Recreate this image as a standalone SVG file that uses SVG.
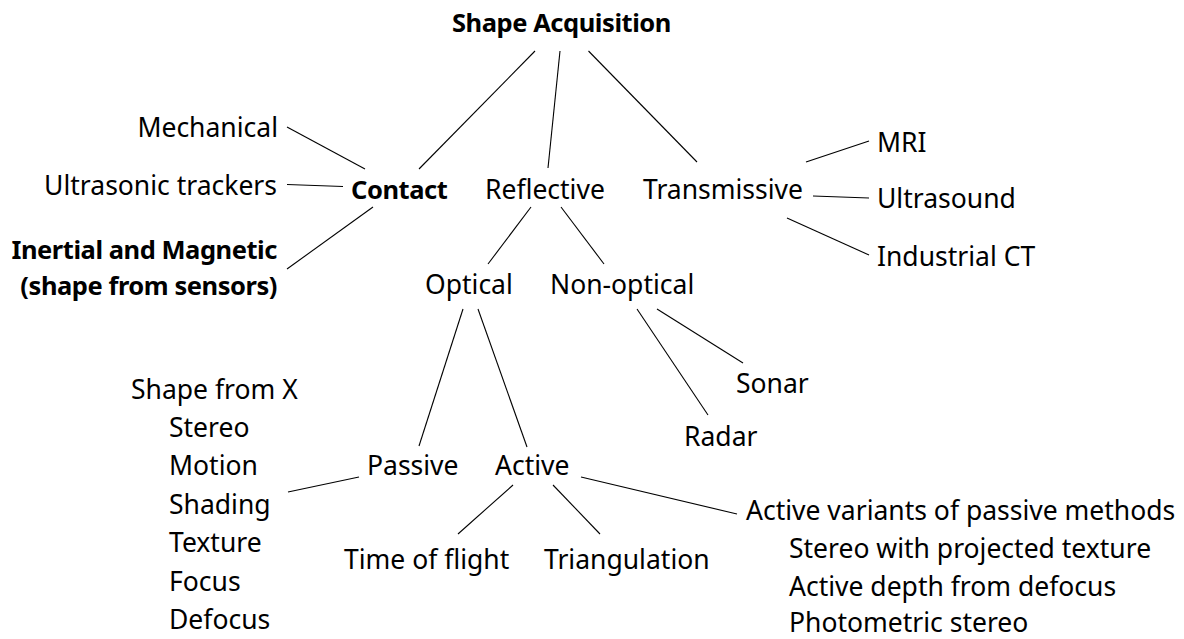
<svg xmlns="http://www.w3.org/2000/svg" width="1184" height="639" viewBox="0 0 1184 639">
<style>
text{font-family:"Noto Sans","Open Sans",sans-serif;font-size:26.5px;fill:#000}
.b{font-weight:bold;font-size:25.5px;letter-spacing:-0.45px}
.e{text-anchor:end}
.m{text-anchor:middle}
#connectors line{stroke:#000;stroke-width:1.1}
</style>
<rect width="1184" height="639" fill="#fff"/>
<g id="connectors">
<line x1="535" y1="51" x2="419" y2="169"/>
<line x1="560" y1="51" x2="548" y2="168"/>
<line x1="588.5" y1="51" x2="697" y2="162"/>
<line x1="287" y1="127" x2="365" y2="169"/>
<line x1="287" y1="184.5" x2="343" y2="186.5"/>
<line x1="373" y1="207" x2="287" y2="269"/>
<line x1="531" y1="207" x2="488" y2="264"/>
<line x1="561" y1="207" x2="604" y2="264"/>
<line x1="806" y1="162" x2="869" y2="141"/>
<line x1="813" y1="196" x2="869" y2="198"/>
<line x1="787" y1="218" x2="869" y2="255"/>
<line x1="463" y1="309" x2="419" y2="446"/>
<line x1="478" y1="309" x2="527" y2="447"/>
<line x1="637" y1="309" x2="708" y2="415"/>
<line x1="657" y1="309" x2="743" y2="363"/>
<line x1="359" y1="477" x2="288" y2="492"/>
<line x1="513" y1="485" x2="458" y2="534"/>
<line x1="553" y1="485" x2="600" y2="534"/>
<line x1="581" y1="477" x2="737" y2="514"/>
</g>
<g id="n-root"><text class="b m" x="561.5" y="31.5">Shape Acquisition</text></g>
<g id="n-mechanical"><text class="e" x="278" y="137">Mechanical</text></g>
<g id="n-ultrasonic"><text class="e" x="277" y="195">Ultrasonic trackers</text></g>
<g id="n-inertial"><text class="b e" x="277" y="259">Inertial and Magnetic</text><text class="b e" x="277" y="295">(shape from sensors)</text></g>
<g id="n-contact"><text class="b" x="351" y="199">Contact</text></g>
<g id="n-reflective"><text x="485" y="199">Reflective</text></g>
<g id="n-transmissive"><text x="643" y="199">Transmissive</text></g>
<g id="n-mri"><text x="877" y="152">MRI</text></g>
<g id="n-ultrasound"><text x="877" y="208">Ultrasound</text></g>
<g id="n-ct"><text x="877" y="266">Industrial CT</text></g>
<g id="n-optical"><text x="425" y="294">Optical</text></g>
<g id="n-nonoptical"><text x="550" y="294">Non-optical</text></g>
<g id="n-sonar"><text x="736" y="393">Sonar</text></g>
<g id="n-radar"><text x="684" y="446">Radar</text></g>
<g id="n-sfx"><text x="131" y="399">Shape from X</text>
<text x="169" y="437">Stereo</text>
<text x="169" y="475">Motion</text>
<text x="169" y="513.5">Shading</text>
<text x="169" y="552">Texture</text>
<text x="169" y="590.5">Focus</text>
<text x="169" y="628.5">Defocus</text></g>
<g id="n-passive"><text x="367" y="475">Passive</text></g>
<g id="n-active"><text x="495" y="475">Active</text></g>
<g id="n-tof"><text x="344" y="569">Time of flight</text></g>
<g id="n-tri"><text x="544" y="569">Triangulation</text></g>
<g id="n-variants"><text x="746" y="520">Active variants of passive methods</text>
<text x="789" y="558">Stereo with projected texture</text>
<text x="789" y="596">Active depth from defocus</text>
<text x="789" y="631.5">Photometric stereo</text></g>
</svg>
